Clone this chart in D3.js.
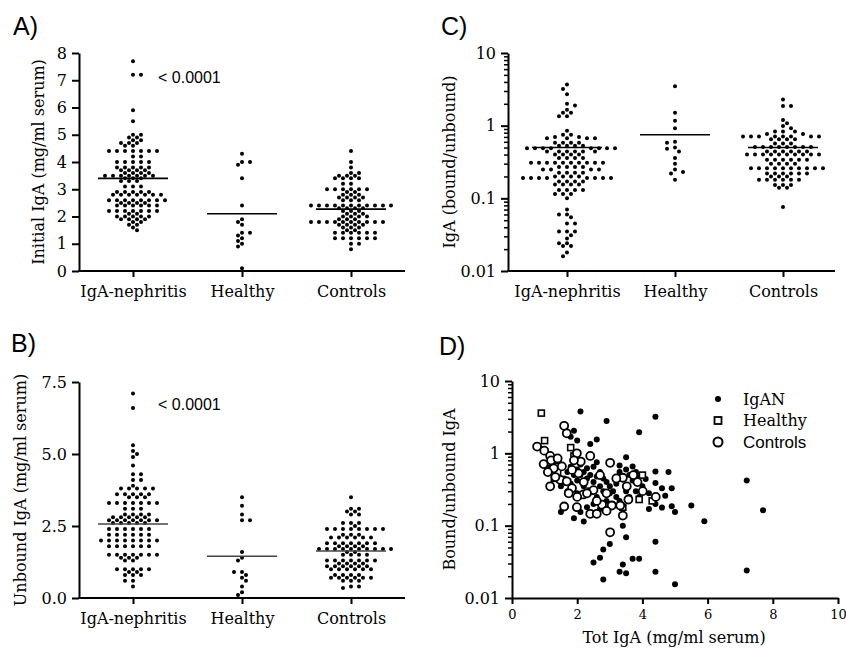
<!DOCTYPE html>
<html>
<head>
<meta charset="utf-8">
<script src="https://cdn.jsdelivr.net/npm/d3@7"></script>
<style>
  body { margin: 0; background: #fff; }
  svg { display: block; }
</style>
</head>
<body>
<svg id="chart" width="846" height="648"></svg>
<script>
// ---- data ----
const groups = ['IgA-nephritis', 'Healthy', 'Controls'];

// A) initial IgA (mg/ml serum)
const initialNephritis = [
  7.7, 7.2, 7.2, 5.9, 5.5, 5.0, 5.0, 4.9, 4.9, 4.8, 4.8, 4.7, 4.7, 4.7, 4.6, 4.6,
  4.4, 4.4, 4.4, 4.4, 4.4, 4.4, 4.4, 4.2, 4.2, 4.0, 4.0, 4.0, 4.0, 4.0,
  3.8, 3.8, 3.8, 3.8, 3.8, 3.7, 3.7, 3.7, 3.7, 3.6, 3.6, 3.6, 3.6,
  3.5, 3.5, 3.5, 3.5, 3.5, 3.5, 3.5, 3.4, 3.4, 3.4, 3.3, 3.3, 3.3, 3.1, 3.1, 3.1,
  2.9, 2.9, 2.9, 2.9, 2.9, 2.8, 2.8, 2.8, 2.8, 2.8, 2.8, 2.8,
  2.6, 2.6, 2.6, 2.6, 2.6, 2.6, 2.6, 2.6, 2.5, 2.5, 2.5, 2.5,
  2.4, 2.4, 2.4, 2.4, 2.4, 2.4, 2.2, 2.2, 2.2, 2.2, 2.2, 2.2, 2.2, 2.1, 2.1,
  2.0, 2.0, 2.0, 2.0, 2.0, 1.9, 1.9, 1.9, 1.9, 1.8, 1.8, 1.7, 1.7, 1.6, 1.5,
];
const initialHealthy = [4.3, 4.0, 4.0, 3.9, 3.4, 2.4, 1.9, 1.8, 1.7, 1.4, 1.4, 1.3, 1.2, 1.1, 1.0, 0.9, 0.1];
const initialControls = [
  4.4, 4.0, 3.8, 3.6, 3.6, 3.5, 3.5, 3.5, 3.4, 3.4, 3.4, 3.4, 3.2, 3.2,
  3.0, 3.0, 3.0, 3.0, 3.0, 3.0, 2.9, 2.9, 2.8, 2.8, 2.8, 2.7, 2.7, 2.7, 2.7, 2.6, 2.6, 2.6,
  2.4, 2.4, 2.4, 2.4, 2.4, 2.4, 2.4, 2.4, 2.4, 2.4, 2.4, 2.3, 2.3, 2.3, 2.3,
  2.2, 2.2, 2.2, 2.1, 2.1, 2.1, 2.0, 2.0, 2.0, 2.0, 1.9, 1.9, 1.9,
  1.8, 1.8, 1.8, 1.8, 1.8, 1.8, 1.8, 1.8, 1.8, 1.8, 1.7, 1.7, 1.7, 1.7, 1.6, 1.6, 1.6, 1.5, 1.5,
  1.4, 1.4, 1.4, 1.4, 1.4, 1.4, 1.2, 1.2, 1.2, 1.2, 1.2, 1.2, 1.0, 1.0, 0.8,
];
const initialMeans = [3.4, 2.1, 2.27];

// B) unbound IgA (mg/ml serum)
const unboundNephritis = [
  7.1, 6.6, 5.3, 5.1, 5.0, 4.9, 4.6, 4.3, 4.3, 4.1, 4.1, 3.9,
  3.8, 3.8, 3.8, 3.8, 3.8, 3.6, 3.6, 3.6, 3.6, 3.6, 3.5, 3.5, 3.5,
  3.3, 3.3, 3.3, 3.3, 3.3, 3.3, 3.3, 3.1, 3.1, 3.1, 2.9, 2.9, 2.9, 2.9,
  2.8, 2.8, 2.8, 2.8, 2.8, 2.7, 2.7, 2.7, 2.7, 2.7, 2.7, 2.7, 2.6, 2.6, 2.6, 2.6, 2.6,
  2.4, 2.4, 2.4, 2.4, 2.4, 2.4, 2.2, 2.2, 2.2, 2.2, 2.2, 2.2,
  2.0, 2.0, 2.0, 2.0, 2.0, 2.0, 2.0, 2.0, 1.8, 1.8, 1.8, 1.8, 1.8, 1.8,
  1.5, 1.5, 1.5, 1.5, 1.5, 1.5, 1.5, 1.4, 1.4, 1.4, 1.3, 1.3,
  1.0, 1.0, 1.0, 1.0, 1.0, 0.9, 0.9, 0.8, 0.8, 0.8, 0.6, 0.6, 0.4,
];
const unboundHealthy = [3.5, 3.2, 2.9, 2.7, 2.7, 1.6, 1.4, 1.3, 0.9, 0.9, 0.8, 0.7, 0.6, 0.4, 0.2, 0.1];
const unboundControls = [
  3.5, 3.1, 3.1, 3.0, 3.0, 2.9, 2.9, 2.6, 2.6, 2.6, 2.5,
  2.4, 2.4, 2.4, 2.4, 2.4, 2.4, 2.4, 2.4, 2.2, 2.2, 2.2, 2.1, 2.1, 2.1, 2.1, 2.1, 2.1,
  1.9, 1.9, 1.9, 1.9, 1.9, 1.9, 1.9, 1.8, 1.8, 1.8, 1.8,
  1.7, 1.7, 1.7, 1.7, 1.7, 1.7, 1.7, 1.7, 1.7, 1.7, 1.6, 1.6, 1.5, 1.5, 1.5, 1.5,
  1.3, 1.3, 1.3, 1.3, 1.3, 1.3, 1.3, 1.2, 1.2, 1.2, 1.2, 1.1, 1.1, 1.1, 1.1, 1.1, 1.1,
  1.0, 1.0, 1.0, 1.0, 1.0, 1.0, 0.8, 0.8, 0.8, 0.8, 0.7, 0.7, 0.7, 0.7, 0.7, 0.7,
  0.6, 0.6, 0.6, 0.4, 0.4, 0.35,
];
const unboundMeans = [2.57, 1.45, 1.63];

// C) IgA bound/unbound
const ratioNephritis = [
  3.7, 3.2, 2.7, 2.0, 1.9, 1.65, 1.5, 1.5, 1.35, 1.35, 0.85, 0.75, 0.75, 0.7, 0.7,
  0.67, 0.67, 0.67, 0.67, 0.58, 0.58, 0.58, 0.58, 0.53, 0.53, 0.53, 0.53,
  0.49, 0.49, 0.49, 0.49, 0.49, 0.49, 0.49, 0.49, 0.44, 0.44, 0.44, 0.44, 0.44, 0.44,
  0.4, 0.4, 0.4, 0.4, 0.36, 0.36, 0.36, 0.36,
  0.31, 0.31, 0.31, 0.31, 0.31, 0.31, 0.31, 0.31, 0.31, 0.31, 0.27, 0.27, 0.27, 0.27,
  0.25, 0.25, 0.25, 0.25, 0.225, 0.225, 0.225, 0.225, 0.2, 0.2, 0.2, 0.2,
  0.19, 0.19, 0.19, 0.19, 0.19, 0.19, 0.19, 0.19, 0.17, 0.17, 0.17, 0.17,
  0.155, 0.155, 0.155, 0.155, 0.13, 0.13, 0.13, 0.13, 0.115, 0.115, 0.115, 0.1,
  0.07, 0.06, 0.06, 0.055, 0.045, 0.045, 0.035, 0.035, 0.035, 0.031, 0.028,
  0.024, 0.024, 0.022, 0.022, 0.018, 0.016,
];
const ratioHealthy = [3.5, 1.5, 1.17, 0.92, 0.6, 0.58, 0.5, 0.48, 0.44, 0.36, 0.3, 0.25, 0.23, 0.22, 0.18];
const ratioControls = [
  2.3, 1.87, 1.87, 1.2, 1.08, 0.99, 0.92, 0.83, 0.83, 0.83, 0.77, 0.77,
  0.71, 0.71, 0.71, 0.71, 0.71, 0.71, 0.71, 0.71, 0.65, 0.65, 0.65, 0.65, 0.57, 0.57, 0.57,
  0.51, 0.51, 0.51, 0.51, 0.51, 0.51, 0.51, 0.51, 0.44, 0.44, 0.44, 0.44, 0.44, 0.44,
  0.4, 0.4, 0.4, 0.4, 0.4, 0.4, 0.4, 0.4, 0.4, 0.4, 0.34, 0.34, 0.34, 0.34, 0.34, 0.34,
  0.3, 0.3, 0.3, 0.3, 0.26, 0.26, 0.26, 0.26, 0.26, 0.26, 0.26, 0.26, 0.26, 0.26,
  0.22, 0.22, 0.22, 0.22, 0.22, 0.22, 0.2, 0.2, 0.2, 0.18, 0.18, 0.18, 0.18, 0.18, 0.18,
  0.153, 0.153, 0.153, 0.14, 0.14, 0.076,
];
const ratioMeans = [0.5, 0.75, 0.5];

// D) [tot IgA, bound/unbound]
const scatterIgAN = [
  [2.1, 3.8], [2.9, 2.8], [4.4, 3.2], [3.9, 1.95], [2.6, 1.55], [2.4, 1.35], [1.9, 2.05], [2.0, 1.5],
  [1.8, 1.7], [3.5, 0.88], [3.3, 0.68], [3.7, 0.66], [4.4, 0.56], [4.8, 0.55], [4.4, 0.39], [4.6, 0.33],
  [4.9, 0.33], [4.7, 0.26], [4.1, 0.44], [7.2, 0.42], [7.7, 0.163], [5.5, 0.19], [5.9, 0.115], [5.0, 0.155],
  [4.9, 0.186], [4.4, 0.2], [4.6, 0.178], [4.2, 0.17], [3.4, 0.1], [3.5, 0.069], [3.0, 0.056], [2.8, 0.047],
  [2.7, 0.036], [2.5, 0.031], [3.7, 0.035], [3.9, 0.035], [3.4, 0.029], [3.3, 0.023], [3.5, 0.022], [4.4, 0.023],
  [2.8, 0.018], [5.0, 0.0155], [7.2, 0.024], [4.4, 0.06], [1.5, 0.155], [1.9, 0.127], [2.2, 0.114], [2.1, 0.155],
  [1.3, 0.6], [1.4, 0.5], [1.5, 0.7], [1.6, 0.45], [1.7, 0.55], [1.8, 0.65], [1.8, 0.38], [1.9, 0.5],
  [2.0, 0.42], [2.0, 0.6], [2.1, 0.5], [2.2, 0.35], [2.2, 0.55], [2.3, 0.45], [2.3, 0.62], [2.4, 0.5],
  [2.4, 0.3], [2.5, 0.4], [2.5, 0.65], [2.6, 0.48], [2.6, 0.25], [2.7, 0.35], [2.7, 0.55], [2.8, 0.3],
  [2.8, 0.45], [2.9, 0.4], [2.9, 0.22], [3.0, 0.35], [3.0, 0.28], [3.1, 0.3], [3.1, 0.2], [3.2, 0.25],
  [3.3, 0.55], [3.3, 0.22], [3.4, 0.45], [3.5, 0.6], [3.5, 0.3], [3.6, 0.5], [3.6, 0.25], [3.7, 0.42],
  [3.8, 0.3], [3.8, 0.55], [3.9, 0.25], [4.0, 0.35], [4.2, 0.28], [2.5, 0.2], [2.3, 0.18], [2.7, 0.17],
  [2.0, 0.28], [1.7, 0.3], [3.2, 0.38], [1.5, 0.35], [2.1, 0.7], [2.6, 0.75], [3.9, 0.5],
];
const scatterHealthy = [
  [0.9, 3.6], [1.0, 1.5], [1.8, 1.2], [4.0, 0.5], [1.1, 0.62], [1.4, 0.66], [1.7, 0.4], [1.9, 0.92],
  [3.4, 0.18], [1.2, 0.6], [1.3, 0.45], [2.4, 0.3], [3.9, 0.23], [1.4, 0.55], [4.3, 0.22],
];
const scatterControls = [
  [0.77, 1.24], [0.99, 1.09], [1.17, 0.92], [0.97, 0.71], [1.6, 2.4], [1.68, 1.89], [1.99, 1.0], [2.11, 0.77],
  [2.4, 0.92], [3.01, 0.74], [2.7, 0.5], [1.17, 0.35], [1.6, 0.184], [1.99, 0.18], [2.4, 0.146], [2.6, 0.146],
  [3.01, 0.081], [3.4, 0.138], [3.4, 0.46], [3.57, 0.23], [3.85, 0.4], [4.01, 0.3], [4.41, 0.25], [3.52, 0.35],
  [1.48, 0.43], [1.84, 0.33], [2.19, 0.27], [2.5, 0.31], [3.06, 0.19], [2.76, 0.195], [1.33, 0.47], [1.68, 0.41],
  [2.04, 0.53], [2.3, 0.28], [2.9, 0.28], [3.72, 0.5], [1.28, 0.62], [1.53, 0.66], [1.84, 0.59], [1.74, 0.28],
  [2.9, 0.16], [3.32, 0.19], [1.2, 0.8], [1.4, 0.85], [1.9, 0.8], [2.2, 0.4], [2.6, 0.22], [3.2, 0.45],
  [1.1, 0.55], [2.0, 0.25],
];

// ---- ticks ----
const initialTicks = [0, 1, 2, 3, 4, 5, 6, 7, 8];
const unboundTicks = [0, 2.5, 5, 7.5];
const logTicks = [0.01, 0.1, 1, 10];
const logMinorTicks = [0.01, 0.1, 1].flatMap(d => d3.range(2, 10).map(k => +(k * d).toPrecision(2)));
const totTicks = [0, 2, 4, 6, 8, 10];

// ---- layout / style ----
const SERIF = '"DejaVu Serif", Georgia, serif';
const SANS = '"Liberation Sans", Arial, Helvetica, sans-serif';

const svg = d3.select('#chart');
svg.append('rect').attr('width', 846).attr('height', 648).attr('fill', '#fff');

const logFormat = d => (d >= 1 ? d3.format('d')(d) : String(d));

// Prism-like column scatter: greedy placement on a half-step grid
const swarmOffsets = (ys, step = 8, minDist = 4.8) => {
  const order = d3.range(ys.length).sort((a, b) => ys[a] - ys[b]);
  const dx = new Array(ys.length);
  const placed = [];
  order.forEach(i => {
    for (let k = 0; k < 40; k++) {
      const sign = placed.length % 2 ? -1 : 1;
      const cands = k === 0 ? [0] : [sign * k * step / 2, -sign * k * step / 2];
      const hit = cands.find(c =>
        placed.every(p => Math.hypot(p.x - c, p.y - ys[i]) >= minDist));
      if (hit !== undefined) {
        dx[i] = hit;
        placed.push({ x: hit, y: ys[i] });
        break;
      }
    }
  });
  return dx;
};

const styleAxis = (g, size, family) => {
  g.attr('font-size', size).attr('font-family', family);
  g.select('.domain').attr('stroke-width', 2);
  g.selectAll('.tick line').attr('stroke-width', 2);
  g.selectAll('.tick text').attr('fill', '#000');
};

const panelLetter = (text, x, y) =>
  svg.append('text').attr('x', x).attr('y', y)
    .attr('font-family', SANS).attr('font-size', 25).text(text);

const yTitle = (text, x, y) =>
  svg.append('text')
    .attr('transform', `translate(${x},${y}) rotate(-90)`)
    .attr('text-anchor', 'middle')
    .attr('font-family', SERIF).attr('font-size', 16)
    .text(text);

const dotPanel = ({ lay, y, ticks, minor, fmt, series, means, title, titleX, meanColor }) => {
  const x = d3.scalePoint().domain(groups).range(lay.cats);
  const g = svg.append('g');

  g.append('g')
    .attr('transform', `translate(${lay.left},0)`)
    .call(d3.axisLeft(y).tickValues(ticks).tickFormat(fmt).tickSize(7).tickSizeOuter(0).tickPadding(5))
    .call(a => styleAxis(a, 16, SERIF));

  if (minor) {
    g.append('g')
      .attr('transform', `translate(${lay.left},0)`)
      .call(d3.axisLeft(y).tickValues(minor).tickFormat('').tickSize(4).tickSizeOuter(0))
      .call(a => a.select('.domain').remove())
      .call(a => a.selectAll('.tick line').attr('stroke-width', 1.5));
  }

  g.append('line')
    .attr('x1', lay.left - 1).attr('x2', lay.right)
    .attr('y1', y.range()[0]).attr('y2', y.range()[0])
    .attr('stroke', '#000').attr('stroke-width', 2);

  g.append('g')
    .attr('transform', `translate(0,${y.range()[0]})`)
    .call(d3.axisBottom(x).tickSize(6).tickPadding(9))
    .call(a => styleAxis(a, 16, SERIF))
    .call(a => a.select('.domain').remove());

  series.forEach((vals, i) => {
    const ys = vals.map(d => y(d));
    const dx = swarmOffsets(ys);
    g.append('g').selectAll('circle')
      .data(vals)
      .join('circle')
      .attr('cx', (d, j) => x(groups[i]) + dx[j])
      .attr('cy', (d, j) => ys[j])
      .attr('r', 2)
      .attr('fill', '#000');
  });

  g.append('g').selectAll('line')
    .data(means)
    .join('line')
    .attr('x1', (d, i) => x(groups[i]) - 35)
    .attr('x2', (d, i) => x(groups[i]) + 35)
    .attr('y1', d => y(d)).attr('y2', d => y(d))
    .attr('stroke', meanColor).attr('stroke-width', 1.6);

  yTitle(title, titleX, (y.range()[0] + y.range()[1]) / 2);
};

// A)
dotPanel({
  lay: { left: 79, right: 405, cats: [133, 351] },
  y: d3.scaleLinear().domain([0, 8]).range([271, 53]),
  ticks: initialTicks,
  fmt: d3.format('d'),
  series: [initialNephritis, initialHealthy, initialControls],
  means: initialMeans,
  title: 'Initial IgA (mg/ml serum)',
  titleX: 44,
  meanColor: '#000',
});
panelLetter('A)', 13, 35);
svg.append('text').attr('x', 158).attr('y', 83)
  .attr('font-family', SANS).attr('font-size', 16).text('< 0.0001');

// B)
dotPanel({
  lay: { left: 79, right: 405, cats: [133, 351] },
  y: d3.scaleLinear().domain([0, 7.5]).range([598, 382]),
  ticks: unboundTicks,
  fmt: d3.format('.1f'),
  series: [unboundNephritis, unboundHealthy, unboundControls],
  means: unboundMeans,
  title: 'Unbound IgA (mg/ml serum)',
  titleX: 26,
  meanColor: '#444',
});
panelLetter('B)', 11, 352);
svg.append('text').attr('x', 158).attr('y', 410)
  .attr('font-family', SANS).attr('font-size', 16).text('< 0.0001');

// C)
dotPanel({
  lay: { left: 508, right: 835, cats: [567, 783] },
  y: d3.scaleLog().domain([0.01, 10]).range([271, 53]),
  ticks: logTicks,
  minor: logMinorTicks,
  fmt: logFormat,
  series: [ratioNephritis, ratioHealthy, ratioControls],
  means: ratioMeans,
  title: 'IgA (bound/unbound)',
  titleX: 455,
  meanColor: '#000',
});
panelLetter('C)', 441, 35);

// D)
const xD = d3.scaleLinear().domain([0, 10]).range([512, 838]);
const yD = d3.scaleLog().domain([0.01, 10]).range([598, 381]);
const gD = svg.append('g');

gD.append('g')
  .attr('transform', `translate(${xD.range()[0]},0)`)
  .call(d3.axisLeft(yD).tickValues(logTicks).tickFormat(logFormat).tickSize(7).tickSizeOuter(0).tickPadding(5))
  .call(a => styleAxis(a, 16, SERIF));
gD.append('g')
  .attr('transform', `translate(${xD.range()[0]},0)`)
  .call(d3.axisLeft(yD).tickValues(logMinorTicks).tickFormat('').tickSize(4).tickSizeOuter(0))
  .call(a => a.select('.domain').remove())
  .call(a => a.selectAll('.tick line').attr('stroke-width', 1.5));
gD.append('g')
  .attr('transform', `translate(0,${yD.range()[0]})`)
  .call(d3.axisBottom(xD).tickValues(totTicks).tickFormat(d3.format('d')).tickSize(6).tickSizeOuter(0).tickPadding(6))
  .call(a => styleAxis(a, 13, SERIF));

gD.append('g').selectAll('circle')
  .data(scatterIgAN)
  .join('circle')
  .attr('cx', d => xD(d[0])).attr('cy', d => yD(d[1]))
  .attr('r', 3).attr('fill', '#000');
gD.append('g').selectAll('rect')
  .data(scatterHealthy)
  .join('rect')
  .attr('x', d => xD(d[0]) - 3).attr('y', d => yD(d[1]) - 3)
  .attr('width', 6).attr('height', 6)
  .attr('fill', '#fff').attr('stroke', '#000').attr('stroke-width', 1.6);
gD.append('g').selectAll('circle')
  .data(scatterControls)
  .join('circle')
  .attr('cx', d => xD(d[0])).attr('cy', d => yD(d[1]))
  .attr('r', 4).attr('fill', '#fff').attr('stroke', '#000').attr('stroke-width', 1.8);

svg.append('text').attr('x', 674).attr('y', 643)
  .attr('text-anchor', 'middle').attr('font-family', SERIF).attr('font-size', 16)
  .text('Tot IgA (mg/ml serum)');
yTitle('Bound/unbound IgA', 455, (yD.range()[0] + yD.range()[1]) / 2);
panelLetter('D)', 439, 355);

// legend
const legend = gD.append('g').attr('transform', 'translate(718,399)');
legend.append('circle').attr('r', 3).attr('fill', '#000');
legend.append('rect').attr('x', -3.5).attr('y', 18).attr('width', 7).attr('height', 7)
  .attr('fill', '#fff').attr('stroke', '#000').attr('stroke-width', 1.8);
legend.append('circle').attr('cy', 43).attr('r', 4.5)
  .attr('fill', '#fff').attr('stroke', '#000').attr('stroke-width', 2);
legend.append('text').attr('x', 25).attr('y', 6).attr('font-family', SERIF).attr('font-size', 16).text('IgAN');
legend.append('text').attr('x', 25).attr('y', 27).attr('font-family', SERIF).attr('font-size', 16).text('Healthy');
legend.append('text').attr('x', 25).attr('y', 49).attr('font-family', SANS).attr('font-size', 17).text('Controls');
</script>
</body>
</html>
